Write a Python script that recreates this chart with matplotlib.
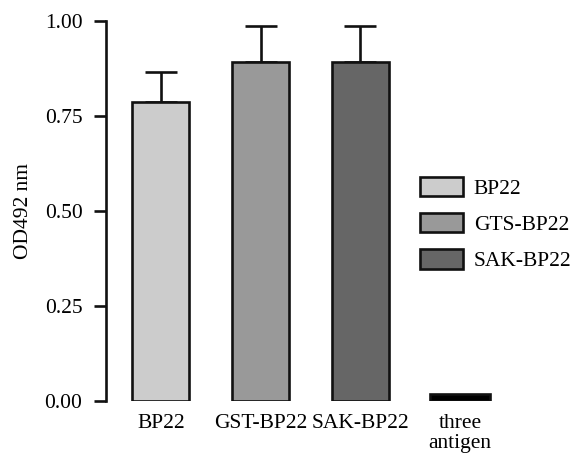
import matplotlib
matplotlib.use("Agg")
import matplotlib.pyplot as plt
from matplotlib.patches import Patch

categories = ["BP22", "GST-BP22", "SAK-BP22", "three\nantigen"]
values = [0.787, 0.893, 0.893, 0.018]
errors = [0.079, 0.094, 0.094, 0.0]
colors = ["#cccccc", "#999999", "#666666", "#000000"]
legend_labels = ["BP22", "GTS-BP22", "SAK-BP22"]
yticks = [0.00, 0.25, 0.50, 0.75, 1.00]

plt.rcParams['font.family'] = ['Liberation Serif', 'DejaVu Serif']
FS = 15.5

fig = plt.figure(figsize=(5.75, 4.62), dpi=100)
ax = fig.add_axes([106/575, (462-401)/462, (505-106)/575, 380/462])

x = list(range(len(categories)))
widths = [0.57, 0.57, 0.57, 0.6]
for i in x:
    ax.bar(x[i], values[i], width=widths[i], color=colors[i],
           edgecolor="#111111", linewidth=1.9, zorder=2)
    if errors[i] > 0:
        ax.errorbar(x[i], values[i], yerr=[[0], [errors[i]]], fmt="none",
                    ecolor="#111111", elinewidth=1.9, capsize=11.5,
                    capthick=1.9, zorder=1)

ax.set_xlim(-0.55, 3.45)
ax.set_ylim(0, 1.0)
ax.set_yticks(yticks)
ax.set_yticklabels([f"{v:.2f}" for v in yticks], fontsize=FS)
ax.set_xticks(x)
ax.set_xticklabels(categories, fontsize=FS, linespacing=1.1)
ax.tick_params(axis="x", length=0, pad=9)
ax.tick_params(axis="y", length=9, width=1.9, pad=8, color="#111111")
ax.set_ylabel("OD492 nm", fontsize=FS, labelpad=8)

for s in ["top", "right", "bottom"]:
    ax.spines[s].set_visible(False)
ax.spines["left"].set_linewidth(1.9)
ax.spines["left"].set_color("#111111")
ax.spines["left"].set_bounds(0, 1.0)

handles = [Patch(facecolor=colors[i], edgecolor="#111111", linewidth=1.9)
           for i in range(3)]
fig.legend(handles, legend_labels, loc="center left",
           bbox_to_anchor=(405/575, (462-224)/462), frameon=False,
           fontsize=FS, handlelength=2.0, handleheight=1.0,
           labelspacing=0.67, handletextpad=0.5, borderpad=0.2)

fig.savefig("out.png", dpi=100)
